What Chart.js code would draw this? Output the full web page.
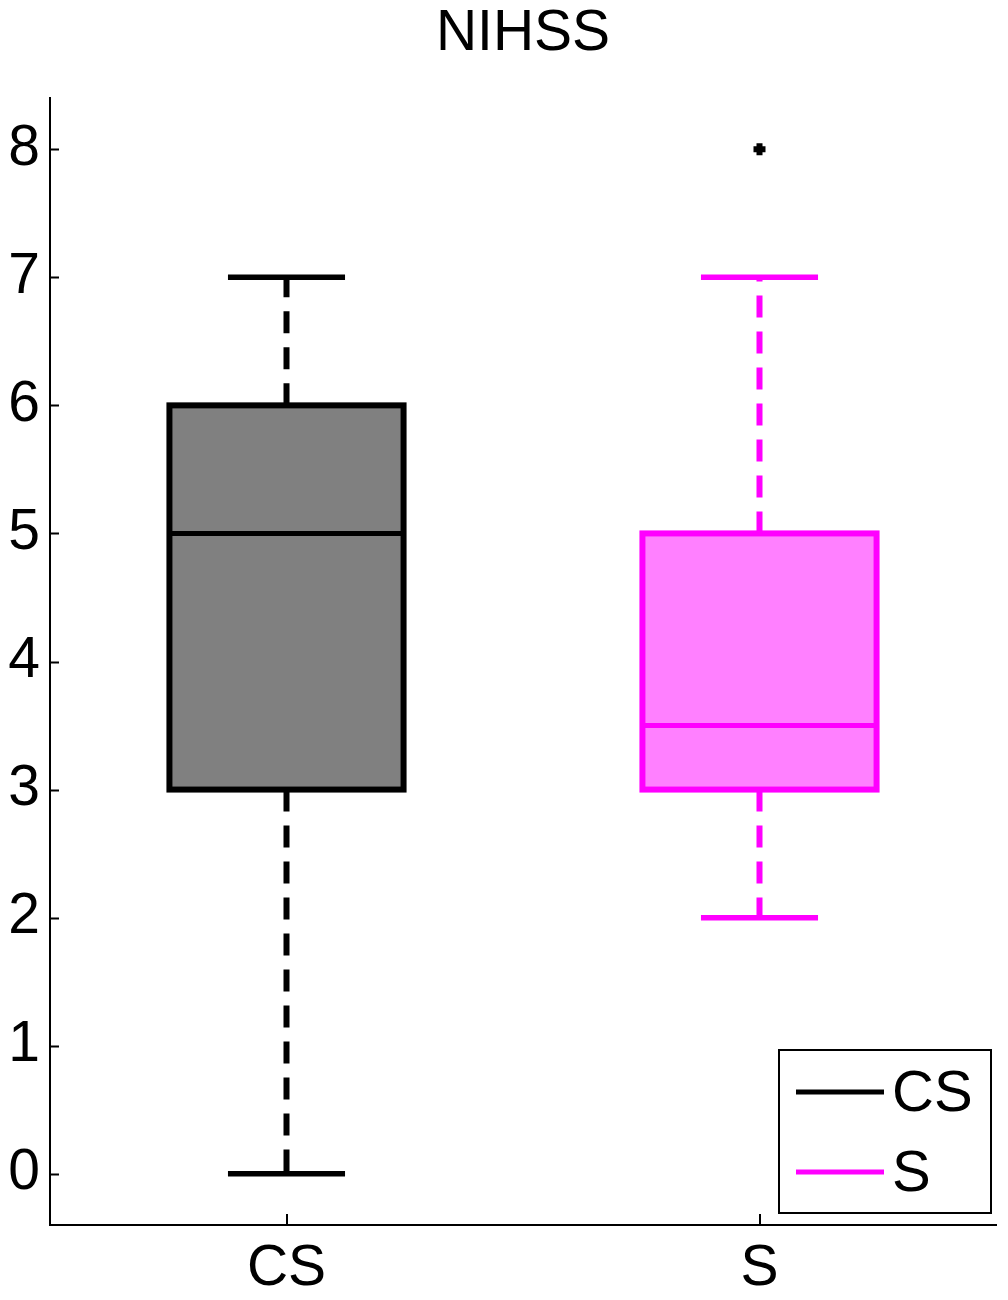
<!DOCTYPE html>
<html>
<head>
<meta charset="utf-8">
<script src="https://cdn.jsdelivr.net/npm/chart.js@4/dist/chart.umd.min.js"></script>
<style>
  body { margin: 0; background: #fff; }
  #wrap { width: 1008px; height: 1300px; position: relative; }
</style>
</head>
<body>
<div id="wrap"><canvas id="boxChart"></canvas></div>
<script>
var categories = ['CS', 'S'];
var q1 = [3, 3];
var q3 = [6, 5];
var medians = [5, 3.5];
var whiskerLow = [0, 2];
var whiskerHigh = [7, 7];
var outliers = [null, 8];
var yTicks = [0, 1, 2, 3, 4, 5, 6, 7, 8];

var fillColors = ['#808080', '#ff80ff'];
var lineColors = ['#000000', '#ff00ff'];
var FONT = '"Liberation Sans", Arial, sans-serif';

// whiskers, caps, box outlines, medians, tick marks and legend
var boxPlugin = {
    id: 'boxWhiskers',
    afterDatasetsDraw: function(chart) {
        var ctx = chart.ctx;
        var yScale = chart.scales.y;
        var xScale = chart.scales.x;
        var area = chart.chartArea;
        var meta = chart.getDatasetMeta(0);

        ctx.save();
        meta.data.forEach(function(bar, i) {
            var x = bar.x;
            var half = bar.width / 2;
            var yq1 = yScale.getPixelForValue(q1[i]);
            var yq3 = yScale.getPixelForValue(q3[i]);
            var yMed = yScale.getPixelForValue(medians[i]);
            var yLo = yScale.getPixelForValue(whiskerLow[i]);
            var yHi = yScale.getPixelForValue(whiskerHigh[i]);
            var capHalf = half / 2;

            ctx.strokeStyle = lineColors[i];
            ctx.lineCap = 'butt';

            // dashed whiskers
            ctx.lineWidth = 6;
            ctx.setLineDash([22, 14]);
            ctx.beginPath();
            ctx.moveTo(x, yq3);
            ctx.lineTo(x, yHi);
            ctx.stroke();
            ctx.beginPath();
            ctx.moveTo(x, yq1);
            ctx.lineTo(x, yLo);
            ctx.stroke();
            ctx.setLineDash([]);

            // caps
            ctx.lineWidth = 5.5;
            ctx.beginPath();
            ctx.moveTo(x - capHalf, yHi);
            ctx.lineTo(x + capHalf, yHi);
            ctx.moveTo(x - capHalf, yLo);
            ctx.lineTo(x + capHalf, yLo);
            ctx.stroke();

            // box outline and median
            ctx.lineWidth = 6;
            ctx.lineJoin = 'miter';
            ctx.strokeRect(x - half, yq3, bar.width, yq1 - yq3);
            ctx.lineWidth = 5;
            ctx.beginPath();
            ctx.moveTo(x - half, yMed);
            ctx.lineTo(x + half, yMed);
            ctx.stroke();
        });

        // inward tick marks
        ctx.strokeStyle = '#000';
        ctx.lineWidth = 2;
        ctx.beginPath();
        yScale.ticks.forEach(function(t, i) {
            var py = Math.round(yScale.getPixelForTick(i)) + 0.5;
            ctx.moveTo(area.left, py);
            ctx.lineTo(area.left + 9, py);
        });
        xScale.ticks.forEach(function(t, i) {
            var px = Math.round(xScale.getPixelForTick(i));
            ctx.moveTo(px, area.bottom);
            ctx.lineTo(px, area.bottom - 11);
        });
        ctx.stroke();

        // legend box in the lower right corner
        var lx = area.right - 217, ly = area.bottom - 175, lw = 212, lh = 163;
        ctx.fillStyle = '#fff';
        ctx.fillRect(lx, ly, lw, lh);
        ctx.lineWidth = 2;
        ctx.strokeStyle = '#000';
        ctx.strokeRect(lx, ly, lw, lh);
        ctx.font = '58px ' + FONT;
        ctx.textBaseline = 'middle';
        ctx.textAlign = 'left';
        categories.forEach(function(name, i) {
            var rowY = ly + 42 + i * 80;
            ctx.strokeStyle = lineColors[i];
            ctx.lineWidth = 5;
            ctx.beginPath();
            ctx.moveTo(lx + 17, rowY);
            ctx.lineTo(lx + 105, rowY);
            ctx.stroke();
            ctx.fillStyle = '#000';
            ctx.fillText(name, lx + 113, rowY + 3);
        });
        ctx.restore();
    }
};

var boxChart = new Chart(document.getElementById('boxChart'), {
    type: 'bar',
    data: {
        labels: categories,
        datasets: [{
            label: 'box',
            data: categories.map(function(c, i) { return [q1[i], q3[i]]; }),
            backgroundColor: fillColors,
            borderWidth: 0,
            barPercentage: 0.495,
            categoryPercentage: 1
        },
        {
            type: 'line',
            label: 'outliers',
            data: outliers,
            showLine: false,
            pointStyle: 'cross',
            pointRadius: 6,
            pointBorderWidth: 6,
            pointBorderColor: '#000',
            borderColor: '#000',
            backgroundColor: '#000'
        }]
    },
    options: {
        responsive: true,
        maintainAspectRatio: false,
        animation: false,
        layout: { padding: { left: 0, right: 10, top: 0, bottom: 0 } },
        plugins: {
            legend: { display: false },
            tooltip: { enabled: false },
            title: {
                display: true,
                fullSize: false,
                text: 'NIHSS',
                color: '#000',
                font: { family: FONT, size: 57, weight: 'normal', lineHeight: 1 },
                padding: { top: 6, bottom: 35 }
            }
        },
        scales: {
            x: {
                grid: { display: false, drawTicks: false },
                border: { display: true, color: '#000', width: 2 },
                ticks: {
                    color: '#000',
                    padding: 10,
                    font: { family: FONT, size: 57 }
                },
                afterFit: function(scale) { scale.height = 75; }
            },
            y: {
                min: -0.4,
                max: 8.4,
                grid: { display: false, drawTicks: false },
                border: { display: true, color: '#000', width: 2 },
                ticks: {
                    color: '#000',
                    padding: 10,
                    font: { family: FONT, size: 57 }
                },
                afterBuildTicks: function(scale) {
                    scale.ticks = yTicks.map(function(v) { return { value: v }; });
                },
                afterFit: function(scale) { scale.width = 50; }
            }
        }
    },
    plugins: [boxPlugin]
});
</script>
</body>
</html>
